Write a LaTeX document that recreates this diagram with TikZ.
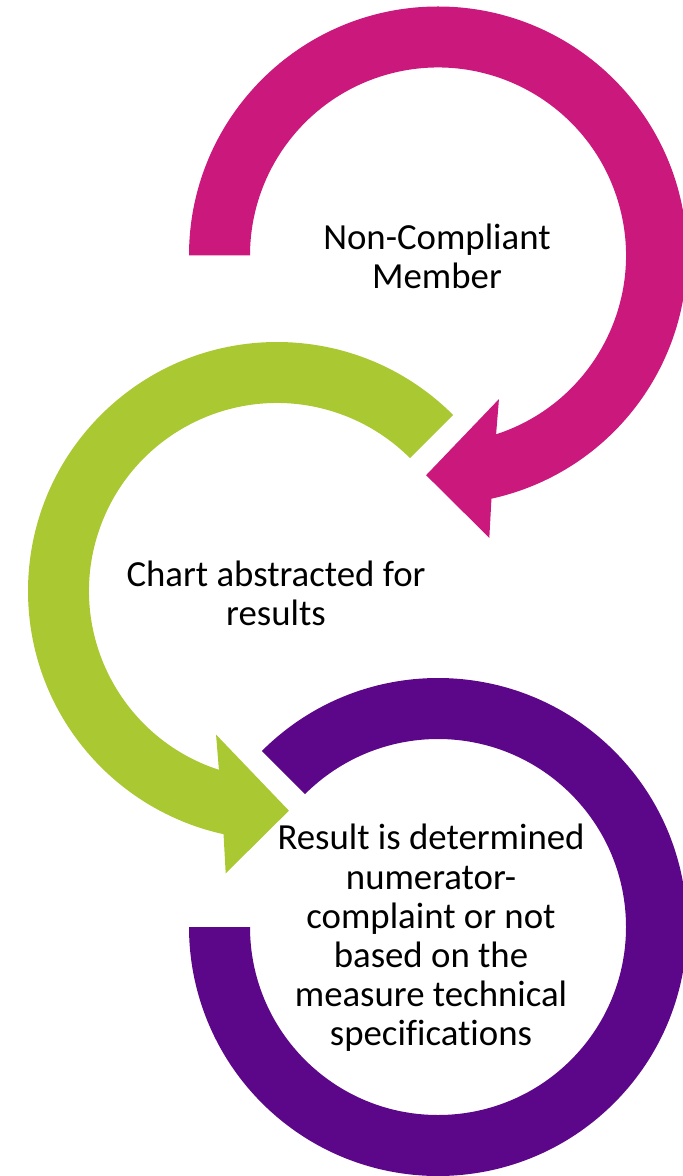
\documentclass[tikz,border=0pt]{standalone}
\usepackage{fontspec}
\setmainfont{Carlito}[Ligatures=NoCommon]
\definecolor{ringmagenta}{RGB}{203,24,124}
\definecolor{ringgreen}{RGB}{170,200,50}
\definecolor{ringpurple}{RGB}{92,7,137}
\newcommand{\rout}{249}
\newcommand{\rin}{188}
% ring with arrow head, #1 = start angle, #2 = colour
\newcommand{\ringarrow}[2]{%
  \fill[#2] (#1:\rout) arc[start angle=#1, end angle=-77.6, radius=\rout]
    -- (-79.7:287) -- (-93.1:220) -- (-67:156)
    -- (-72:\rin) arc[start angle=-72, end angle=#1, radius=\rin] -- cycle;}
\tikzset{lbl/.style={align=center, inner sep=0pt, font=\fontsize{18.4}{19.6}\selectfont}}
\begin{document}
\begin{tikzpicture}[x=0.5pt, y=0.5pt]
	\useasboundingbox (0,0) rectangle (682,-1176);

	\begin{scope}[shift={(438,-255.5)}]
	    \ringarrow{180}{ringmagenta}
	\end{scope}
	\begin{scope}[shift={(277,-591)}, xscale=-1]
	    \ringarrow{135}{ringgreen}
	\end{scope}
	\begin{scope}[shift={(438,-927)}]
	    \fill[ringpurple] (135:\rout) arc[start angle=135, end angle=-180, radius=\rout]
	      -- (180:\rin) arc[start angle=180, end angle=495, radius=\rin] -- cycle;
	\end{scope}

	\node[lbl] (member) at (437,-256) {Non-Compliant\\Member};
	\node[lbl] (chart) at (276,-593) {Chart abstracted for\\results};
	\node[lbl] (result) at (431,-938) {Result is determined\\numerator-\\complaint or not\\based on the\\measure technical\\specifications};
\end{tikzpicture}
\end{document}
